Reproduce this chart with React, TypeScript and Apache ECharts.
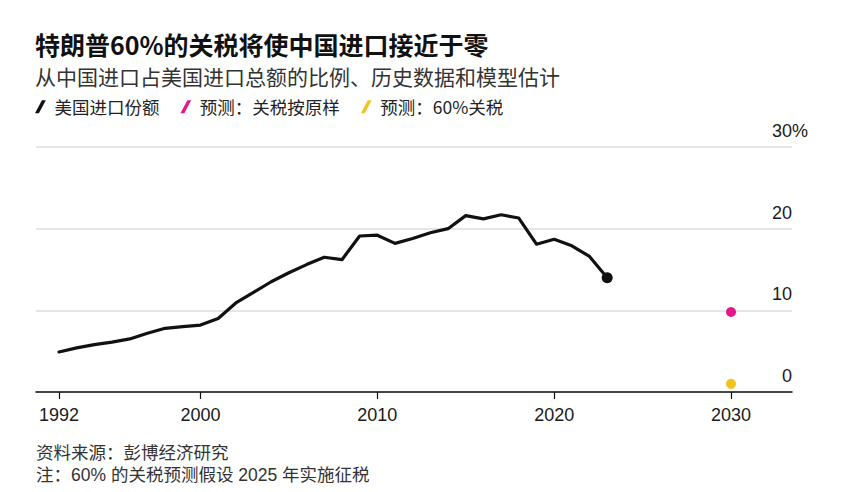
import React, { useEffect, useRef } from "react";
import * as echarts from "echarts";

const titleText = "特朗普60%的关税将使中国进口接近于零";
const subtitleText = "从中国进口占美国进口总额的比例、历史数据和模型估计";
const sourceText = "资料来源：彭博经济研究";
const noteText = "注：60% 的关税预测假设 2025 年实施征税";

const seriesNames = ["美国进口份额", "预测：关税按原样", "预测：60%关税"];
const seriesColors = ["#111111", "#e6198a", "#f4c21c"];

const years = [
  1992, 1993, 1994, 1995, 1996, 1997, 1998, 1999, 2000, 2001, 2002, 2003, 2004,
  2005, 2006, 2007, 2008, 2009, 2010, 2011, 2012, 2013, 2014, 2015, 2016, 2017,
  2018, 2019, 2020, 2021, 2022, 2023,
];
const importShare = [
  4.9, 5.4, 5.8, 6.1, 6.5, 7.2, 7.8, 8.0, 8.2, 9.0, 10.9, 12.2, 13.5, 14.6,
  15.6, 16.5, 16.2, 19.1, 19.2, 18.2, 18.8, 19.5, 20.0, 21.6, 21.2, 21.7, 21.3,
  18.1, 18.7, 17.9, 16.6, 14.0,
];
const forecastYear = 2030;
const forecastAsIs = 9.8;
const forecast60 = 1.0;

const xTicks = [1992, 2000, 2010, 2020, 2030];
const yTicks = [0, 10, 20, 30];

const slashIcon = "path://M0,12 L3.6,12 L10,0 L6.4,0 Z";

export default function App() {
  const ref = useRef<HTMLDivElement>(null);

  useEffect(() => {
    if (!ref.current) return;
    const chart = echarts.init(ref.current, undefined, { renderer: "svg" });
    const cjk = "'Noto Sans CJK SC', 'Noto Sans', sans-serif";
    const mixed = "'Liberation Sans', 'Noto Sans CJK SC', sans-serif";
    const num = "'Liberation Sans', Roboto, sans-serif";
    const hist = years.map((y, i) => [y, importShare[i]]);
    const last = hist[hist.length - 1];

    chart.setOption({
      animation: false,
      backgroundColor: "#ffffff",
      title: [
        {
          text: titleText,
          left: 35,
          top: 29,
          padding: 0,
          textStyle: {
            fontFamily: cjk,
            fontSize: 25,
            fontWeight: "bold",
            color: "#111",
            lineHeight: 30,
          },
        },
        {
          text: subtitleText,
          left: 35,
          top: 63,
          padding: 0,
          textStyle: {
            fontFamily: cjk,
            fontSize: 21,
            fontWeight: "normal",
            color: "#333",
            lineHeight: 26,
          },
        },
        {
          text: sourceText,
          left: 36,
          top: 444,
          padding: 0,
          textStyle: {
            fontFamily: mixed,
            fontSize: 17.5,
            fontWeight: "normal",
            color: "#333",
            lineHeight: 18,
          },
        },
        {
          text: noteText,
          left: 36,
          top: 466,
          padding: 0,
          textStyle: {
            fontFamily: mixed,
            fontSize: 17.5,
            fontWeight: "normal",
            color: "#333",
            lineHeight: 18,
          },
        },
      ],
      legend: {
        left: 35,
        top: 98,
        padding: 0,
        itemWidth: 18,
        itemHeight: 13,
        itemGap: 21,
        selectedMode: false,
        data: seriesNames.map((n) => ({ name: n, icon: slashIcon })),
        textStyle: {
          fontFamily: cjk,
          fontSize: 17.5,
          color: "#222",
        },
      },
      grid: {
        left: 36,
        right: 74,
        top: 147,
        bottom: 100,
        containLabel: false,
      },
      xAxis: {
        type: "value",
        min: 1990.7,
        max: 2033.45,
        axisLine: { show: true, lineStyle: { color: "#111", width: 1.5 } },
        axisTick: {
          show: true,
          customValues: xTicks,
          length: 7,
          lineStyle: { color: "#111", width: 1.2 },
        },
        axisLabel: {
          customValues: xTicks,
          margin: 14,
          fontFamily: num,
          fontSize: 18,
          color: "#1a1a1a",
          formatter: (v: number) => String(v),
        },
        splitLine: { show: false },
      },
      yAxis: {
        type: "value",
        position: "right",
        min: 0,
        max: 30,
        interval: 10,
        axisLine: { show: false },
        axisTick: { show: false },
        splitLine: { show: true, lineStyle: { color: "#dcdcdc", width: 1.5 } },
        axisLabel: {
          inside: true,
          margin: -16,
          align: "right",
          verticalAlign: "bottom",
          padding: [0, 0, 7, 0],
          fontFamily: num,
          fontSize: 18,
          color: "#1a1a1a",
          formatter: (v: number) =>
            v === yTicks[yTicks.length - 1] ? `{n|${v}}{p|%}` : `{n|${v}}{p|}`,
          rich: {
            n: {
              width: 24,
              align: "right",
              fontFamily: num,
              fontSize: 18,
              color: "#1a1a1a",
            },
            p: {
              width: 16,
              align: "right",
              fontFamily: num,
              fontSize: 18,
              color: "#1a1a1a",
            },
          },
        },
      },
      series: [
        {
          name: seriesNames[0],
          type: "line",
          data: hist,
          color: seriesColors[0],
          showSymbol: false,
          lineStyle: { width: 3.2, color: seriesColors[0], join: "round", cap: "round" },
          z: 3,
        },
        {
          name: seriesNames[0] + "_end",
          type: "scatter",
          data: [last],
          symbolSize: 11,
          itemStyle: { color: seriesColors[0], opacity: 1 },
          z: 4,
        },
        {
          name: seriesNames[1],
          type: "scatter",
          data: [[forecastYear, forecastAsIs]],
          symbolSize: 10,
          color: seriesColors[1],
          itemStyle: { color: seriesColors[1], opacity: 1 },
          z: 4,
        },
        {
          name: seriesNames[2],
          type: "scatter",
          data: [[forecastYear, forecast60]],
          symbolSize: 10,
          color: seriesColors[2],
          itemStyle: { color: seriesColors[2], opacity: 1 },
          z: 4,
        },
      ],
    });

    return () => chart.dispose();
  }, []);

  return (
    <div
      ref={ref}
      style={{ position: "fixed", left: 0, top: 0, width: 866, height: 492 }}
    />
  );
}
